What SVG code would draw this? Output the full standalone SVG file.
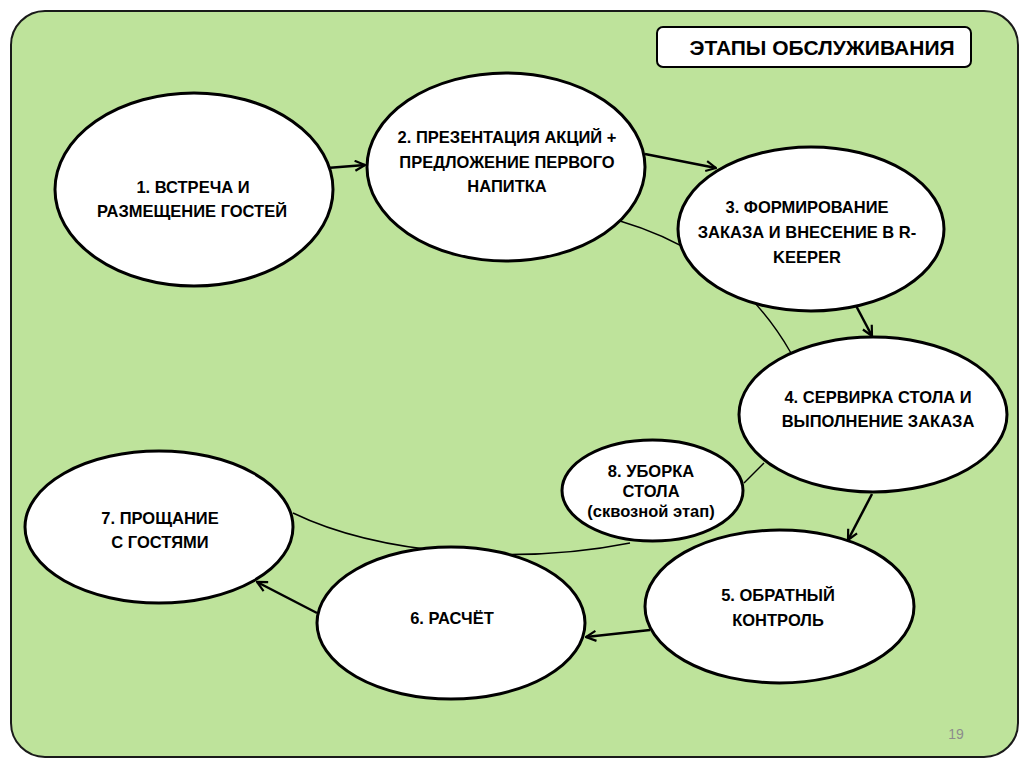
<svg xmlns="http://www.w3.org/2000/svg" width="1024" height="767" viewBox="0 0 1024 767">
<style>
.node{fill:#ffffff;stroke:#000000;stroke-width:3}
.lbl{font-family:"Liberation Sans",Arial,sans-serif;font-weight:bold;font-size:16.5px;fill:#000000;text-anchor:middle}
.arrow{fill:none;stroke:#000000;stroke-width:2.5;marker-end:url(#ah)}
.thin{fill:none;stroke:#000000;stroke-width:1.4}
</style>
<defs>
<marker id="ah" viewBox="0 0 12 12" refX="11" refY="6" markerWidth="12" markerHeight="12" markerUnits="userSpaceOnUse" orient="auto">
<path d="M1,1 L11,6 L1,11" fill="none" stroke="#000000" stroke-width="2.2"/>
</marker>
</defs>
<rect x="0" y="0" width="1024" height="767" fill="#ffffff"/>
<rect id="background" x="11" y="11" width="1007" height="746" rx="34" ry="34" fill="#bee39b" stroke="#1a1a1a" stroke-width="2"/>
<g id="title">
<rect x="657" y="27" width="314" height="40" rx="6" ry="6" fill="#ffffff" stroke="#000000" stroke-width="2"/>
<text x="822" y="55" font-family="'Liberation Sans',Arial,sans-serif" font-weight="bold" font-size="21" text-anchor="middle">ЭТАПЫ ОБСЛУЖИВАНИЯ</text>
</g>
<g id="connectors">
<path class="thin" d="M620,221 Q735,255 791,353"/>
<path class="thin" d="M764,463 L744,483"/>
<path class="thin" d="M630,543 C520,565 380,555 293,513"/>
<line class="arrow" x1="327" y1="168" x2="365" y2="165"/>
<line class="arrow" x1="645" y1="154" x2="716" y2="168"/>
<line class="arrow" x1="853" y1="300" x2="872" y2="336"/>
<line class="arrow" x1="872" y1="494" x2="848" y2="540"/>
<line class="arrow" x1="650" y1="630" x2="586" y2="637"/>
<line class="arrow" x1="317" y1="613" x2="257" y2="582"/>
</g>
<g id="node1">
<ellipse class="node" cx="194" cy="189.5" rx="139" ry="96.5"/>
<text class="lbl" x="193" y="193">1. ВСТРЕЧА И</text>
<text class="lbl" x="192" y="217">РАЗМЕЩЕНИЕ ГОСТЕЙ</text>
</g>
<g id="node2">
<ellipse class="node" cx="506" cy="167" rx="139" ry="94"/>
<text class="lbl" x="507" y="143">2. ПРЕЗЕНТАЦИЯ АКЦИЙ +</text>
<text class="lbl" x="507" y="168">ПРЕДЛОЖЕНИЕ ПЕРВОГО</text>
<text class="lbl" x="507" y="192">НАПИТКА</text>
</g>
<g id="node3">
<ellipse class="node" cx="811" cy="229" rx="133" ry="82"/>
<text class="lbl" x="807" y="213">3. ФОРМИРОВАНИЕ</text>
<text class="lbl" x="807" y="238">ЗАКАЗА И ВНЕСЕНИЕ В R-</text>
<text class="lbl" x="807" y="263">KEEPER</text>
</g>
<g id="node4">
<ellipse class="node" cx="873" cy="414.5" rx="134" ry="77.5"/>
<text class="lbl" x="878" y="403">4. СЕРВИРКА СТОЛА И</text>
<text class="lbl" x="878" y="427">ВЫПОЛНЕНИЕ ЗАКАЗА</text>
</g>
<g id="node5">
<ellipse class="node" cx="779.5" cy="606.5" rx="134.5" ry="76.5"/>
<text class="lbl" x="778" y="601">5. ОБРАТНЫЙ</text>
<text class="lbl" x="778" y="626">КОНТРОЛЬ</text>
</g>
<g id="node6">
<ellipse class="node" cx="451" cy="623" rx="134" ry="76"/>
<text class="lbl" x="452" y="624">6. РАСЧЁТ</text>
</g>
<g id="node7">
<ellipse class="node" cx="159" cy="527" rx="134" ry="76"/>
<text class="lbl" x="160" y="524">7. ПРОЩАНИЕ</text>
<text class="lbl" x="160" y="548">С ГОСТЯМИ</text>
</g>
<g id="node8">
<ellipse class="node" cx="652.5" cy="490.5" rx="90.5" ry="50.5"/>
<text class="lbl" x="651" y="477">8. УБОРКА</text>
<text class="lbl" x="651" y="497">СТОЛА</text>
<text class="lbl" x="651" y="517">(сквозной этап)</text>
</g>
<text x="956" y="739" font-family="'Liberation Sans',Arial,sans-serif" font-size="14" fill="#8c8c8c" text-anchor="middle">19</text>
</svg>
